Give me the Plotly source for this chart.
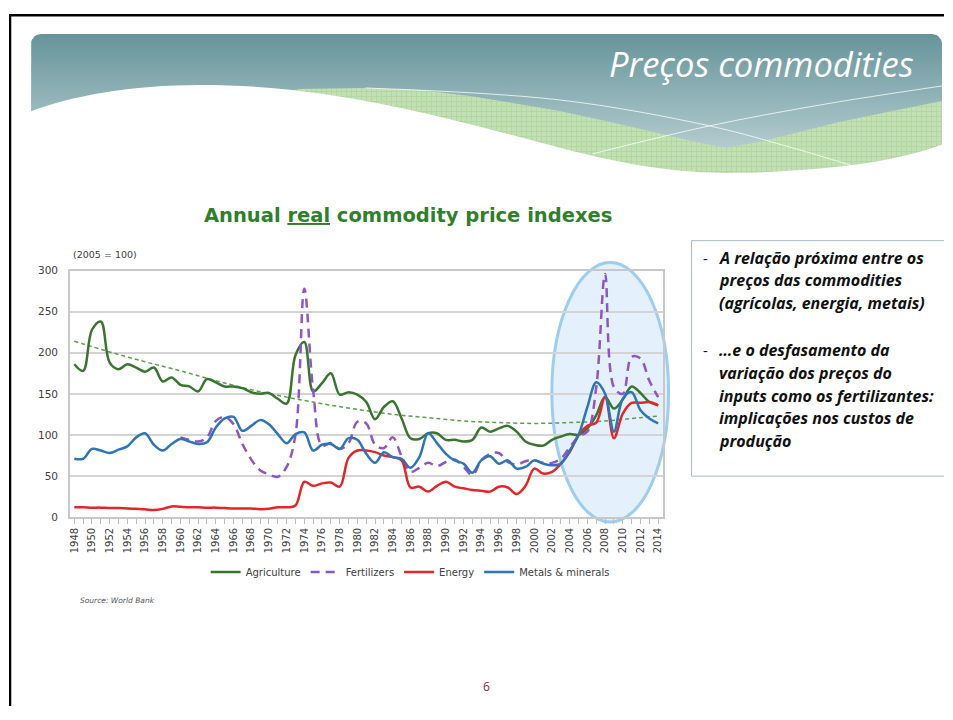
import numpy as np
import plotly.graph_objects as go

# ---- data (2005 = 100) ----
years = list(range(1948, 2015))

agriculture = [
    186, 178, 228, 238, 188, 180, 186, 182, 177, 182,
    165, 170, 161, 159, 153, 168, 164, 159, 159, 157,
    152, 150, 151, 144, 138, 197, 213, 153, 163, 175,
    149, 152, 149, 140, 119, 134, 141, 120, 96, 95,
    102, 102, 94, 94, 92, 94, 109, 104, 108, 111,
    104, 92, 88, 87, 94, 98, 101, 100, 108, 124,
    146, 132, 143, 159, 151, 140, 136,
]

fertilizers = [None] * 12 + [
    97, 94, 92, 97, 117, 122, 113, 89, 70, 57,
    52, 49, 61, 100, 278, 154, 87, 90, 83, 90,
    116, 114, 88, 84, 97, 74, 55, 60, 66, 62,
    67, 70, 61, 51, 69, 77, 78, 67, 64, 68,
    69, 66, 66, 71, 85, 98, 104, 158, 296, 158,
    150, 195, 193, 166, 146,
]

energy = [
    12, 12, 11.5, 11.5, 11, 11, 10.5, 10, 9.5, 8.5,
    10, 13, 12.5, 12, 12, 11.5, 11.5, 11, 10.5, 10.5,
    10.5, 9.5, 10, 12, 12, 14, 43, 38, 41, 42,
    37, 72, 81, 81, 79, 75, 73, 69, 36, 37,
    31, 38, 43, 37, 35, 33, 32, 31, 37, 36,
    28, 38, 59, 53, 55, 65, 79, 100, 111, 115,
    146, 96, 126, 139, 139, 140, 136,
]

metals = [
    71, 71, 83, 81, 78, 82, 86, 97, 102, 88,
    81, 89, 95, 92, 89, 91, 109, 120, 122, 105,
    111, 118, 113, 101, 90, 101, 103, 81, 88, 89,
    83, 96, 94, 77, 66, 79, 73, 71, 60, 73,
    102, 90, 77, 69, 65, 54, 69, 74, 65, 69,
    59, 61, 69, 65, 63, 65, 81, 100, 134, 164,
    150, 104, 144, 152, 130, 120, 114,
]

# agriculture trend line (dotted), read every 4 years
trend_years = [1948, 1952, 1956, 1960, 1964, 1968, 1972, 1976, 1980,
               1984, 1988, 1992, 1996, 2000, 2004, 2008, 2012, 2014]
trend_values = [214, 201, 189, 178, 166, 155, 146, 138, 131,
                125, 121, 117, 115, 114, 115, 117, 121, 123]

series_names = ["Agriculture", "Fertilizers", "Energy", "Metals & minerals"]
series_colors = ["#3a7530", "#8e55c8", "#e3262a", "#2f74b5"]
y_ticks = [0, 50, 100, 150, 200, 250, 300]

box_block1 = ["A relação próxima entre os", "preços das commodities",
              "(agrícolas, energia, metais)"]
box_block2 = ["…e o desfasamento da", "variação dos preços do",
              "inputs como os fertilizantes:", "implicações nos custos de",
              "produção"]

# the page has an 8px body margin, so the figure is 937x704 and sits at (8, 8).
# positions below are given in slide pixels; YS/Y0 correct the vertical
# squeeze seen in the screenshot.
OFF = 8
FW, FH = 937, 704
YS, Y0 = 0.985, 5
AX = "DejaVu Sans"


def px(x):
    return (x - OFF) / FW


def fy(y):
    # slide pixel -> figure pixel (from top)
    return (y - Y0) / YS - OFF


def py(y):
    return 1 - fy(y) / FH


fig = go.Figure()

# ---- slide header (hidden axis pair x2/y2 in slide pixels) ----
r = 10
t1 = np.linspace(np.pi, 1.5 * np.pi, 8)
t2 = np.linspace(1.5 * np.pi, 2 * np.pi, 8)
bx = [30] + list(40 + r * np.cos(t1)) + list(933 + r * np.cos(t2)) + [943, 30]
by = [180] + list(43 + r * np.sin(t1)) + list(43 + r * np.sin(t2)) + [180, 180]
fig.add_trace(go.Scatter(
    x=bx, y=by, xaxis="x2", yaxis="y2", mode="lines",
    line=dict(width=0, color="rgba(0,0,0,0)"), fill="toself",
    fillgradient=dict(type="vertical", colorscale=[[0, "#66949a"], [1, "#c6d9db"]],
                      start=33, stop=172),
    hoverinfo="skip", showlegend=False))

gx = [250, 300, 360, 420, 470, 520, 560, 615, 670, 700, 727, 760, 793, 840, 893, 943, 943, 250]
gy = [96, 88, 87, 89, 95, 103, 110, 122, 135, 142, 147, 141, 133, 121, 110, 100, 190, 190]
fig.add_trace(go.Scatter(
    x=gx, y=gy, xaxis="x2", yaxis="y2", mode="lines",
    line=dict(width=0, color="rgba(0,0,0,0)"),
    fill="toself",
    fillpattern=dict(shape="+", fgcolor="#9cc988", bgcolor="#c2e0b4", size=5, solidity=0.3),
    hoverinfo="skip", showlegend=False))

for lx, ly in [([365, 560, 710, 793, 860], [87, 99, 125, 147, 167]),
               ([593, 710, 827, 943], [153, 125, 103, 85])]:
    fig.add_trace(go.Scatter(
        x=lx, y=ly, xaxis="x2", yaxis="y2", mode="lines",
        line=dict(width=1, color="rgba(255,255,255,0.75)", shape="spline"),
        hoverinfo="skip", showlegend=False))

# ---- the chart ----
fig.add_trace(go.Scatter(
    x=trend_years, y=trend_values, mode="lines",
    line=dict(color="#5c9e4c", width=1.5, dash="4px,3px", shape="spline"),
    hoverinfo="skip", showlegend=False))

for name, vals, col in zip(series_names, [agriculture, fertilizers, energy, metals], series_colors):
    fig.add_trace(go.Scatter(
        x=years, y=vals, name=name, mode="lines",
        line=dict(color=col, width=2.5, shape="spline",
                  dash="9px,6px" if name == "Fertilizers" else "solid")))

shapes = [
    # highlight ellipse around 2004-2014
    dict(type="circle", xref="paper", yref="paper", layer="below",
         x0=px(552), x1=px(669), y0=py(522), y1=py(262),
         fillcolor="#e4f0fb", line=dict(color="#9dcdf0", width=3)),
    # white page below the header wave
    dict(type="path", xref="x2", yref="y2", layer="above",
         path="M 28,111 C 70,95 130,84 200,84 C 330,84 440,115 560,147 "
              "C 640,168 690,173 740,172 C 800,171 890,165 945,143 L 948,200 L 25,200 Z",
         fillcolor="white", line=dict(width=0)),
    # slide frame
    dict(type="line", xref="x2", yref="y2", layer="above", x0=8, x1=960, y0=14, y1=14,
         line=dict(color="black", width=3)),
    dict(type="line", xref="x2", yref="y2", layer="above", x0=9, x1=9, y0=12.5, y1=720,
         line=dict(color="black", width=2.5)),
    # side text box
    dict(type="rect", xref="x2", yref="y2", layer="above", x0=692, x1=975, y0=240, y1=476,
         line=dict(color="#a9bcc6", width=1)),
]

annotations = [
    dict(x=917, y=62, xref="x2", yref="y2", xanchor="right", yanchor="middle", showarrow=False,
         text="Preços commodities",
         font=dict(family="Open Sans", size=34.5, color="white", style="italic")),
    dict(x=408, y=215, xref="x2", yref="y2", xanchor="center", yanchor="middle", showarrow=False,
         text="Annual <u>real</u> commodity price indexes",
         font=dict(family=AX, size=19.5, color="#2f7f2c", weight="bold")),
    dict(x=70, y=254, xref="x2", yref="y2", xanchor="left", yanchor="middle", showarrow=False,
         text="(2005 = 100)", font=dict(family=AX, size=9.5, color="#404040")),
    dict(x=77, y=601, xref="x2", yref="y2", xanchor="left", yanchor="middle", showarrow=False,
         text="Source: World Bank",
         font=dict(family=AX, size=7.5, color="#555555", style="italic")),
    dict(x=487, y=687, xref="x2", yref="y2", xanchor="center", yanchor="middle", showarrow=False,
         text="6", font=dict(family="Open Sans", size=12, color="#7d2a45")),
]

box_font = dict(family="Open Sans", size=16, color="#111111", weight="bold", style="italic")
for block, y_start in [(box_block1, 257), (box_block2, 350)]:
    annotations.append(dict(x=701, y=y_start, xref="x2", yref="y2", xanchor="left",
                            yanchor="middle", showarrow=False, text="-",
                            font=dict(family="Open Sans", size=15, color="#111111")))
    for i, line in enumerate(block):
        annotations.append(dict(x=718, y=y_start + i * 22.7, xref="x2", yref="y2",
                                xanchor="left", yanchor="middle", showarrow=False,
                                text=line, font=box_font))

fig.update_layout(
    width=FW, height=FH,
    margin=dict(l=0, r=0, t=0, b=0),
    paper_bgcolor="white",
    plot_bgcolor="rgba(0,0,0,0)",
    font=dict(family=AX, color="#404040"),
    xaxis=dict(
        domain=[px(69), px(663)], range=[1947.5, 2014.5],
        tickmode="linear", tick0=1948, dtick=2, tickangle=-90,
        ticks="outside", ticklen=5, tickcolor="#bfbfbf",
        minor=dict(ticks="outside", dtick=1, ticklen=5, tickcolor="#bfbfbf"),
        showgrid=False, zeroline=False,
        showline=True, linecolor="#c8c8c8", linewidth=1.5, mirror=True,
        tickfont=dict(family=AX, size=10, color="#404040"),
    ),
    yaxis=dict(
        domain=[py(517), py(270)], range=[0, 300],
        tickvals=y_ticks, gridcolor="#d4d4d4", gridwidth=1.5,
        zeroline=False, showline=True, linecolor="#c8c8c8", linewidth=1.5, mirror=True,
        ticklabelstandoff=8,
        tickfont=dict(family=AX, size=10.5, color="#404040"),
    ),
    xaxis2=dict(domain=[0, 1], range=[OFF, OFF + FW], visible=False, anchor="y2", fixedrange=True),
    yaxis2=dict(domain=[0, 1], range=[YS * (FH + OFF) + Y0, YS * OFF + Y0],
                visible=False, anchor="x2", fixedrange=True),
    legend=dict(
        orientation="h", x=px(410), xanchor="center", y=py(572), yanchor="middle",
        bgcolor="rgba(0,0,0,0)", itemwidth=30,
        font=dict(family=AX, size=10, color="#404040"),
    ),
    shapes=shapes,
    annotations=annotations,
)

fig.write_html("out.html")
